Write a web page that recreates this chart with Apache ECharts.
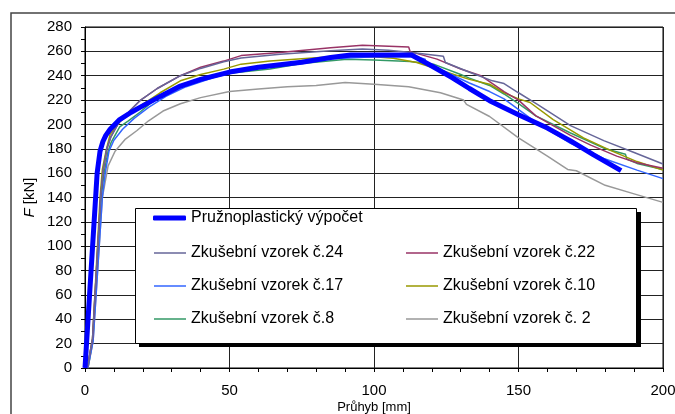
<!DOCTYPE html>
<html>
<head>
<meta charset="utf-8">
<script src="https://cdn.jsdelivr.net/npm/echarts@6/dist/echarts.min.js"></script>
<style>
  html, body { margin: 0; padding: 0; background: #fff; }
  #chart { width: 675px; height: 414px; }
</style>
</head>
<body>
<div id="chart"></div>
<script>
// průhyb [mm] vs. síla [kN]
const calcData = [[0,0],[4.2,160],[5.2,178],[6.2,186],[7.2,191],[8.7,196],[12,204],[16,210],[19,214],[26,223],[33,231.5],[40,237],[50,243],[60,247],[75,251],[85,255],[92,257],[113,257],[120,248],[127,238.5],[133,229.5],[140,219.5],[150,208],[160,197],[168,186.5],[176,175],[185.5,162]];
const sample24 = [[0.8,0],[2.6,24],[5.4,140],[6.3,163],[7.5,180],[9,190],[12,203],[15,210],[19,219.5],[25,229.5],[33,240],[40,246],[48,251.5],[54,254.5],[67.5,257.6],[85,260.4],[96,262],[105,261],[113,259],[124,256],[124.7,250.8],[133.3,242.6],[141,235.8],[145,233.6],[150,226],[156.4,216.7],[168,199],[179.5,186.7],[190,177],[200,167.5]];
const sample22 = [[0.8,0],[2.6,24],[5.4,140],[6.3,162],[7.6,180],[9,190],[12,203],[15,210],[19,219.5],[25,229.5],[33,240],[40,247],[48,252],[54,256.5],[67.5,259],[85,263],[96,265],[112,263.6],[112.5,259.8],[121.8,253.6],[130,245.5],[137,240],[145,227],[150,220],[156,207],[162,199],[168,191],[175,183],[184,174],[191,168.5],[200,164]];
const sample17 = [[1,0],[2.8,22],[6,140],[7,160],[8.3,178],[10,187],[13,196],[17,205],[22,214],[28,223],[35,231],[45,239],[55,244.5],[70,250],[85,254],[100,255.5],[114.8,255.5],[117.7,253.6],[117.9,249.5],[125,243],[133,234],[140,227],[145,221],[156.4,201],[168,184.5],[179.5,172],[191,162.5],[200,155.5]];
const sample10 = [[0.8,0],[2.6,24],[5.2,140],[6,163],[7.3,178.5],[8.7,192],[12,202],[15,208],[19,215],[26,226],[33,235.8],[40,241],[48,245.4],[54,249.5],[64,252],[75,254],[85,255.5],[100,255.5],[106.7,254.4],[114.8,250.8],[125,243],[133,237],[140,233],[145,226],[150,221],[154,218],[162,204],[172.5,189],[182,178.5],[191,169.5],[200,162.5]];
const sample8 = [[1,0],[2.7,23],[5.6,140],[6.6,160],[8,178],[9,185],[12,198],[15,203],[19,210],[23,218],[28,226],[33,231],[40,237],[50,242],[64,245.5],[75,250],[90.6,253.6],[100,253],[112.5,251.6],[120.6,249.5],[130,241],[133,238],[140,232],[145,225],[150,217],[156,207],[168,193],[179.5,180.5],[187,175.5],[187.5,171.5],[191,168],[200,163]];
const sample2 = [[1,0],[2.8,22],[6,140],[8,166],[10.4,178],[14,188],[18,195],[22,203],[27,211],[33,217],[40,222],[50,227],[60,229],[70,231],[80,232],[90,234.5],[100,233],[112,231],[123,226],[131,220],[132,216.5],[140,206.5],[150,189],[160,174],[167,163],[170,162],[180,150],[190,143],[200,136]];

const seriesNames = ['Pružnoplastický výpočet', 'Zkušební vzorek č.24', 'Zkušební vzorek č.22',
  'Zkušební vzorek č.17', 'Zkušební vzorek č.10', 'Zkušební vzorek č.8', 'Zkušební vzorek č. 2'];
const seriesData = [calcData, sample24, sample22, sample17, sample10, sample8, sample2];
const seriesColors = ['#0000ff', '#666699', '#993366', '#3366ff', '#999900', '#339966', '#999999'];

const font = 'Liberation Sans, Arial, sans-serif';
const chart = echarts.init(document.getElementById('chart'));

let series = seriesData.map((d, i) => {
  return {
    name: seriesNames[i],
    type: 'line',
    data: d,
    symbol: 'none',
    showSymbol: false,
    z: i == 0 ? 3 : 2,
    itemStyle: { color: seriesColors[i] },
    lineStyle: { color: seriesColors[i], width: i == 0 ? 5 : 1.5 }
  }
});
// kreslit šedou jako první
series = [series[6], series[5], series[4], series[3], series[2], series[1], series[0]];

const legendText = () => ({ color: '#000', fontSize: 16, fontFamily: font });

const option = {
  animation: false,
  backgroundColor: '#fff',
  grid: {
    left: 85, right: 12, top: 27, bottom: 46,
    outerBoundsMode: 'none',
    show: true, borderColor: '#000', borderWidth: 1
  },
  graphic: {
    elements: [
      {
        type: 'rect', z: 0, silent: true,
        shape: { x: 11, y: 13, width: 720, height: 460 },
        style: { fill: null, stroke: '#444', lineWidth: 1.5 }
      },
      // stín rámečku legendy
      {
        type: 'rect', z: 99, silent: true,
        shape: { x: 139, y: 212, width: 502, height: 135 },
        style: { fill: '#000' }
      },
      {
        type: 'rect', z: 100, silent: true,
        shape: { x: 135.5, y: 208.5, width: 501, height: 135 },
        style: { fill: '#fff', stroke: '#000', lineWidth: 1 }
      }
    ]
  },
  legend: [
    {
      data: [seriesNames[0]], left: 153, top: 210, padding: 0, z: 200,
      icon: 'roundRect', itemWidth: 33, itemHeight: 5, textStyle: legendText()
    },
    {
      data: [seriesNames[1], seriesNames[3], seriesNames[5]], orient: 'vertical',
      left: 154, top: 245, padding: 0, itemGap: 17, z: 200,
      icon: 'rect', itemWidth: 32, itemHeight: 1.5, textStyle: legendText()
    },
    {
      data: [seriesNames[2], seriesNames[4], seriesNames[6]], orient: 'vertical',
      left: 406, top: 245, padding: 0, itemGap: 17, z: 200,
      icon: 'rect', itemWidth: 32, itemHeight: 1.5, textStyle: legendText()
    }
  ],
  xAxis: {
    type: 'value', min: 0, max: 200, interval: 50,
    name: 'Průhyb [mm]', nameLocation: 'middle', nameGap: 33, nameMoveOverlap: false,
    nameTextStyle: { color: '#000', fontSize: 13, fontFamily: font },
    axisLine: { lineStyle: { color: '#000', width: 1 } },
    axisTick: { show: true, length: 4, lineStyle: { color: '#000' } },
    minorTick: { show: true, splitNumber: 5, length: 4, lineStyle: { color: '#000' } },
    axisLabel: { color: '#000', fontSize: 15, fontFamily: font, margin: 15 },
    splitLine: { show: true, lineStyle: { color: '#222', width: 1 } }
  },
  yAxis: {
    type: 'value', min: 0, max: 280, interval: 20,
    name: '{i|F} [kN]', nameLocation: 'middle', nameGap: 48, nameMoveOverlap: false,
    nameTextStyle: {
      color: '#000', fontSize: 15, fontFamily: font,
      rich: { i: { fontStyle: 'italic', fontSize: 15, fontFamily: font, color: '#000' } }
    },
    axisLine: { show: true, lineStyle: { color: '#000', width: 1 } },
    axisTick: { show: true, length: 4, lineStyle: { color: '#000' } },
    minorTick: { show: true, splitNumber: 2, length: 4, lineStyle: { color: '#000' } },
    axisLabel: { color: '#000', fontSize: 15, fontFamily: font, margin: 13 },
    splitLine: { show: true, lineStyle: { color: '#222', width: 1 } }
  },
  series: series
};

option && chart.setOption(option);
</script>
</body>
</html>
